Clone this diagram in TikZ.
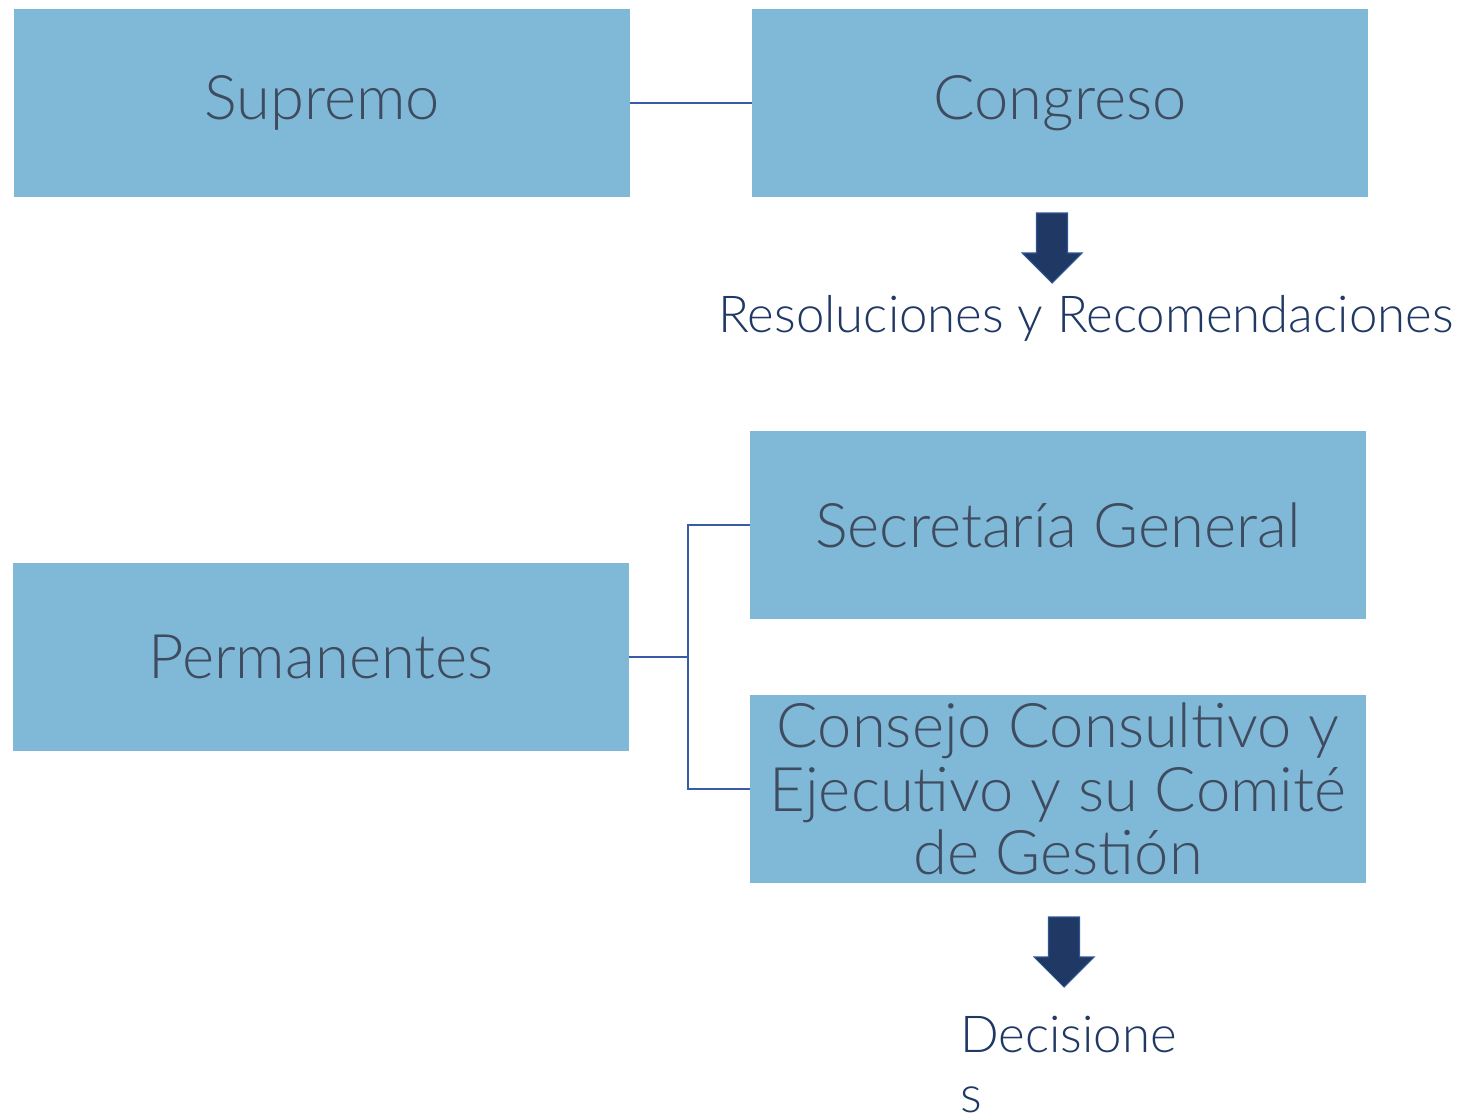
\documentclass[tikz,border=0pt]{standalone}
\usepackage{fontspec}
\setmainfont{Lato Light}
\definecolor{cajaazul}{HTML}{80B9D7}
\definecolor{textogris}{HTML}{3F4B5E}
\definecolor{azuloscuro}{HTML}{1F3864}
\definecolor{azulborde}{HTML}{2F5597}
\definecolor{linea}{HTML}{3A5BA8}
\tikzset{
  caja/.style={rectangle, fill=cajaazul, minimum width=12.32cm, minimum height=3.76cm,
    inner sep=0pt, text=textogris, font=\fontsize{35}{36}\selectfont, align=center},
  rotulo/.style={text=azuloscuro, font=\fontsize{29}{34}\selectfont, inner sep=0pt},
  conector/.style={draw=linea, line width=0.9pt},
  flecha/.pic={
    \fill[azuloscuro, draw=azulborde, line width=0.6pt]
      (-15.5,0) -- (15.5,0) -- (15.5,40) -- (30,40) -- (0,70) -- (-30,40) -- (-15.5,40) -- cycle;
  }
}
\begin{document}
\begin{tikzpicture}[x=0.02cm, y=-0.02cm]
  \useasboundingbox (0,0) rectangle (1466,1112);
  % cajas
  \node[caja] (supremo) at (322,103) {Supremo};
  \node[caja] (congreso) at (1060,103) {Congreso};
  \node[caja] (permanentes) at (321,657) {Permanentes};
  \node[caja] (secretaria) at (1058,525) {Secretaría General};
  \node[caja] (consejo) at (1058,789) {Consejo Consultivo y\\Ejecutivo y su Comité\\de Gestión};
  % conectores
  \draw[conector] (supremo.east) -- (congreso.west);
  \coordinate (rama) at (688,657);
  \draw[conector] (permanentes.east) -- (rama);
  \draw[conector] (secretaria.west) -| (rama) |- (consejo.west);
  % flechas y resultados
  \pic at (1052,213) {flecha};
  \pic at (1064,917) {flecha};
  \node[rotulo] (resoluciones) at (1086,318) {Resoluciones y Recomendaciones};
  \node[rotulo, anchor=north west, align=left] (decisiones) at (960,1016) {Decisione\\s};
\end{tikzpicture}
\end{document}
